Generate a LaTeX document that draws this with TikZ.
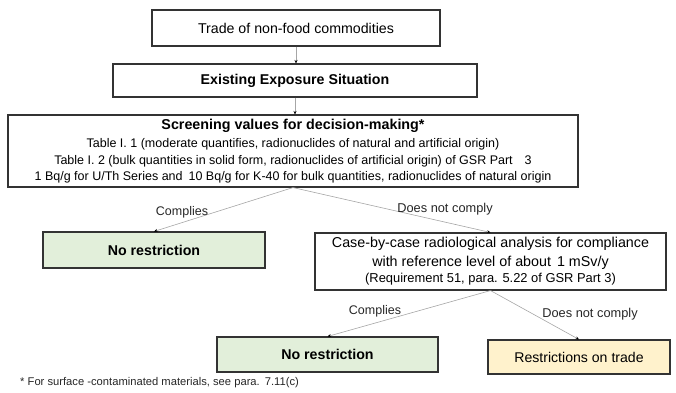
\documentclass[tikz,border=0pt]{standalone}
\usepackage{fontspec}
\setmainfont{Liberation Sans}
\usetikzlibrary{arrows.meta}
\definecolor{boxline}{HTML}{333333}
\definecolor{connline}{HTML}{A6A6A6}
\definecolor{greenfill}{HTML}{E2EFDA}
\definecolor{yellowfill}{HTML}{FFF2CC}
\begin{document}
\begin{tikzpicture}[x=1pt,y=-1pt,
  box/.style={draw=boxline, line width=1.1pt, inner sep=0pt, align=center, fill=white},
  conn/.style={draw=connline, line width=0.6pt, -{Stealth[length=3.5pt,width=3pt,black]}},
  lbl/.style={inner sep=1pt, text=black!85}]
\useasboundingbox (0,0) rectangle (676,392);

\node[box, minimum width=288pt, minimum height=36pt, font=\fontsize{14.2}{17}\selectfont] (b1) at (296,28) {Trade of non-food commodities};
\node[box, minimum width=364pt, minimum height=33pt, font=\fontsize{14.2}{17}\selectfont\bfseries] (b2) at (295,80.5) {Existing Exposure Situation};
\node[box, minimum width=570pt, minimum height=72pt, font=\fontsize{12.5}{16.5}\selectfont] (b3) at (293,151)
  {{\fontsize{14.3}{17}\selectfont\bfseries Screening values for decision-making*}\\[2pt]
   Table I. 1 (moderate quantifies, radionuclides of natural and artificial origin)\\
   Table I. 2 (bulk quantities in solid form, radionuclides of artificial origin) of GSR Part\hspace{12pt}3\\
   1 Bq/g for U/Th Series and\hspace{6pt}10 Bq/g for K-40 for bulk quantities, radionuclides of natural origin};
\node[box, fill=greenfill, minimum width=222pt, minimum height=36pt, font=\fontsize{14.2}{17}\selectfont\bfseries] (nr1) at (154,250) {No restriction};
\node[box, minimum width=351pt, minimum height=57pt, font=\fontsize{14.3}{18.5}\selectfont] (cs) at (490.5,261.5)
  {Case-by-case radiological analysis for compliance\\
   with reference level of about\hspace{6pt}1 mSv/y\\[-2pt]
   {\fontsize{12.9}{15}\selectfont (Requirement 51, para. 5.22 of GSR Part 3)}};
\node[box, fill=greenfill, minimum width=221pt, minimum height=35pt, font=\fontsize{14.2}{17}\selectfont\bfseries] (nr2) at (327.5,354.5) {No restriction};
\node[box, fill=yellowfill, minimum width=182pt, minimum height=34pt, font=\fontsize{14.1}{17}\selectfont] (rt) at (579,357) {Restrictions on trade};

\draw[conn] (b1.south) -- (b1.south |- b2.north);
\draw[conn] (b2.south) -- (b2.south |- b3.north);
\draw[conn] (b3.south) -- (nr1.north);
\draw[conn] (b3.south) -- (cs.north);
\draw[conn] (cs.south) -- (nr2.north);
\draw[conn] (cs.south) -- (rt.north);

\node[lbl, font=\fontsize{12.5}{15}\selectfont] (l1) at (182,212) {Complies};
\node[lbl, font=\fontsize{12.8}{15}\selectfont] (l2) at (445,209) {Does not comply};
\node[lbl, font=\fontsize{12.5}{15}\selectfont] (l3) at (375,311) {Complies};
\node[lbl, font=\fontsize{12.8}{15}\selectfont] (l4) at (590,314) {Does not comply};

\node[anchor=west, inner sep=0pt, font=\fontsize{11.2}{13}\selectfont, text=black!85] (fn) at (20,383) {* For surface -contaminated materials, see para.\hspace{5pt}7.11(c)};
\end{tikzpicture}
\end{document}
